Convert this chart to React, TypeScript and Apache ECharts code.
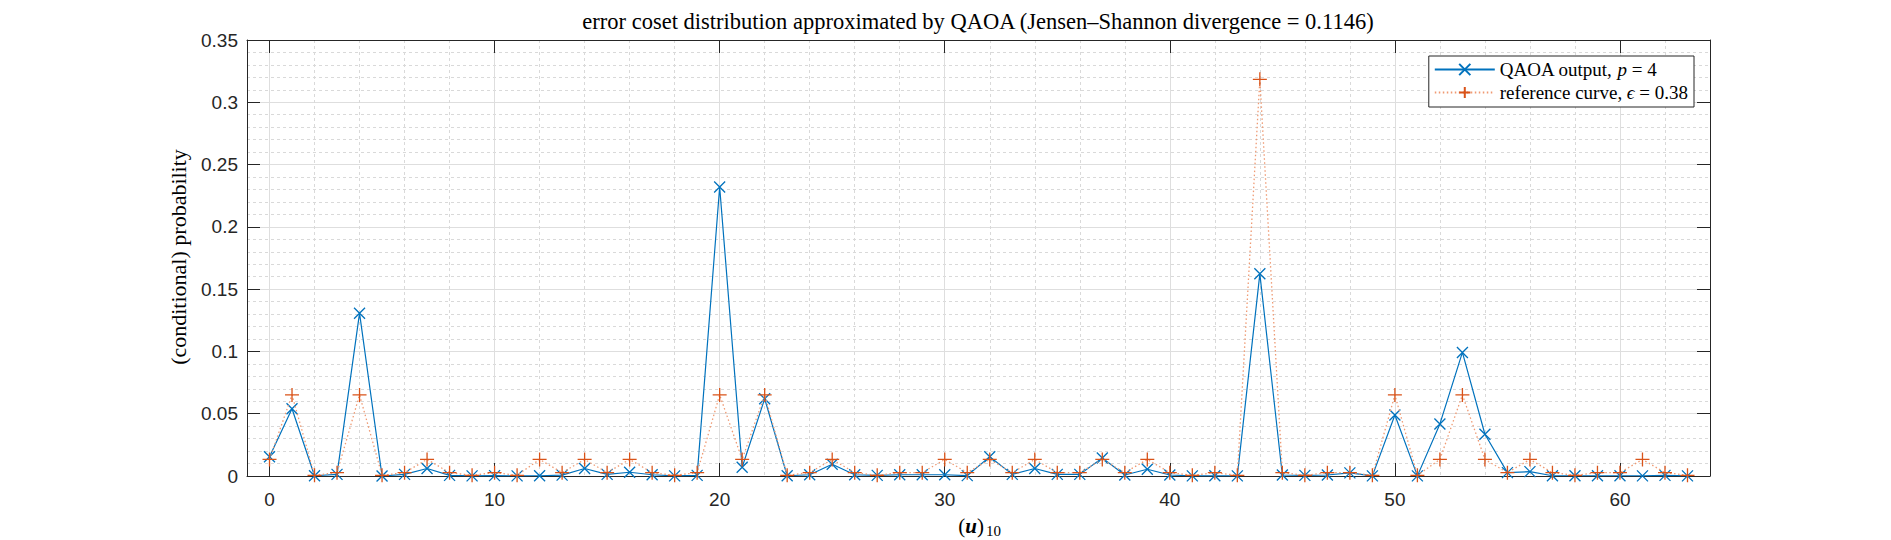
import React, { useEffect, useRef } from "react";
import * as echarts from "echarts";

// ---- data ----
const xValues = [
  0, 1, 2, 3, 4, 5, 6, 7, 8, 9, 10, 11, 12, 13, 14, 15,
  16, 17, 18, 19, 20, 21, 22, 23, 24, 25, 26, 27, 28, 29, 30, 31,
  32, 33, 34, 35, 36, 37, 38, 39, 40, 41, 42, 43, 44, 45, 46, 47,
  48, 49, 50, 51, 52, 53, 54, 55, 56, 57, 58, 59, 60, 61, 62, 63,
];

const qaoaOutput = [
  0.0155, 0.054, 0.0002, 0.0013, 0.1307, 0.0, 0.0013, 0.006,
  0.0005, 0.0001, 0.0003, 0.0001, 0.0002, 0.0007, 0.006, 0.0013,
  0.003, 0.001, 0.0001, 0.0005, 0.232, 0.007, 0.062, 0.0002,
  0.001, 0.0094, 0.001, 0.0005, 0.001, 0.001, 0.001, 0.0003,
  0.0155, 0.0013, 0.006, 0.0013, 0.0013, 0.0145, 0.0008, 0.0054,
  0.0008, 0.0001, 0.0002, 0.0001, 0.1623, 0.0008, 0.0005, 0.0008,
  0.0025, 0.0001, 0.049, 0.0001, 0.0418, 0.0992, 0.0335, 0.0027,
  0.0035, 0.0002, 0.0002, 0.0002, 0.0002, 0.0001, 0.0005, 0.0001,
];

const referenceCurve = [
  0.0133, 0.0651, 0.00056, 0.0027, 0.0651, 0.00056, 0.0027, 0.0133,
  0.0027, 0.00056, 0.0027, 0.00056, 0.0133, 0.0027, 0.0133, 0.0027,
  0.0133, 0.0027, 0.00056, 0.0027, 0.0651, 0.0133, 0.0651, 0.00056,
  0.0027, 0.0133, 0.0027, 0.00056, 0.0027, 0.0027, 0.0133, 0.0027,
  0.0133, 0.0027, 0.0133, 0.0027, 0.0027, 0.0133, 0.0027, 0.0133,
  0.0027, 0.00056, 0.0027, 0.00056, 0.3184, 0.0027, 0.00056, 0.0027,
  0.0027, 0.00056, 0.0651, 0.00056, 0.0133, 0.0651, 0.0133, 0.0027,
  0.0133, 0.0027, 0.00056, 0.0027, 0.0027, 0.0133, 0.0027, 0.00056,
];

const xMajorTicks = [0, 10, 20, 30, 40, 50, 60];
const xMinorTicks = [
  2, 4, 6, 8, 12, 14, 16, 18, 22, 24, 26, 28, 32, 34, 36, 38,
  42, 44, 46, 48, 52, 54, 56, 58, 62,
];

const SERIES_QAOA = "QAOA output, p = 4";
const SERIES_REF = "reference curve, \u03F5 = 0.38";
const TITLE =
  "error coset distribution approximated by QAOA (Jensen\u2013Shannon divergence = 0.1146)";
const Y_NAME = "(conditional) probability";

const SERIF = "'Liberation Serif', 'Times New Roman', serif";
const SANS = "'Liberation Sans', Arial, Helvetica, sans-serif";
const AXIS = "#262626";
const BLUE = "#0072BD";
const ORANGE = "#D95319";
const ORANGE_LINE = "#EF9A73";

const X_PATH = "path://M0,0L10,10M10,0L0,10";
const PLUS_PATH = "path://M5,0L5,10M0,5L10,5";

export default function App() {
  const ref = useRef<HTMLDivElement>(null);

  useEffect(() => {
    if (!ref.current) return;
    const chart = echarts.init(ref.current, undefined, { renderer: "svg" });

    const baseX = {
      type: "value" as const,
      min: -1,
      max: 64,
    };

    const option: any = {
      animation: false,
      backgroundColor: "#ffffff",
      grid: { left: 247, right: 181, top: 40, bottom: 64, containLabel: false },
      legend: {
        orient: "vertical",
        right: 197,
        top: 56,
        itemWidth: 60,
        itemHeight: 14,
        itemGap: 4,
        padding: [4, 6, 5, 5],
        backgroundColor: "#ffffff",
        borderColor: AXIS,
        borderWidth: 1,
        borderRadius: 0,
        data: [SERIES_QAOA, SERIES_REF],
        formatter: (name: string) =>
          name === SERIES_QAOA
            ? "{n|QAOA output, }{i|p}{n| = 4}"
            : "{n|reference curve, }{i|\u03F5}{n| = 0.38}",
        textStyle: {
          fontFamily: SERIF,
          fontSize: 19,
          color: "#000",
          lineHeight: 18,
          rich: {
            n: { fontFamily: SERIF, fontSize: 19, color: "#000", lineHeight: 18 },
            i: {
              fontFamily: SERIF,
              fontSize: 19,
              fontStyle: "italic",
              color: "#000",
              lineHeight: 18,
            },
          },
        },
        z: 10,
      },
      xAxis: [
        {
          ...baseX,
          position: "bottom",
          axisLine: { show: true, onZero: false, lineStyle: { color: AXIS, width: 1 } },
          axisTick: {
            show: true,
            inside: true,
            length: 13,
            customValues: xMajorTicks,
            lineStyle: { color: AXIS, width: 1 },
          },
          axisLabel: {
            show: true,
            customValues: xMajorTicks,
            margin: 14,
            color: AXIS,
            fontSize: 19,
            fontFamily: SANS,
          },
          splitLine: { show: true, lineStyle: { color: "#dedede", width: 1 } },
        },
        {
          ...baseX,
          position: "top",
          axisLine: { show: true, onZero: false, lineStyle: { color: AXIS, width: 1 } },
          axisTick: {
            show: true,
            inside: true,
            length: 13,
            customValues: xMajorTicks,
            lineStyle: { color: AXIS, width: 1 },
          },
          axisLabel: { show: false },
          splitLine: { show: false },
        },
        {
          ...baseX,
          position: "bottom",
          axisLine: { show: false },
          axisTick: { show: false, customValues: xMinorTicks },
          axisLabel: { show: false },
          splitLine: {
            show: true,
            lineStyle: { color: "#d9d9d9", width: 1, type: [3, 3] },
          },
        },
      ],
      yAxis: [
        {
          type: "value",
          position: "left",
          min: 0,
          max: 0.35,
          interval: 0.05,
          axisLine: { show: true, onZero: false, lineStyle: { color: AXIS, width: 1 } },
          axisTick: { show: true, inside: true, length: 13, lineStyle: { color: AXIS, width: 1 } },
          axisLabel: { show: true, margin: 9, color: AXIS, fontSize: 19, fontFamily: SANS },
          splitLine: { show: true, lineStyle: { color: "#dedede", width: 1 } },
          minorTick: { show: false, splitNumber: 5 },
          minorSplitLine: {
            show: true,
            lineStyle: { color: "#d9d9d9", width: 1, type: [3, 3] },
          },
        },
        {
          type: "value",
          position: "right",
          min: 0,
          max: 0.35,
          interval: 0.05,
          axisLine: { show: true, onZero: false, lineStyle: { color: AXIS, width: 1 } },
          axisTick: { show: true, inside: true, length: 13, lineStyle: { color: AXIS, width: 1 } },
          axisLabel: { show: false },
          splitLine: { show: false },
        },
      ],
      series: [
        {
          type: "line",
          name: SERIES_QAOA,
          xAxisIndex: 0,
          yAxisIndex: 0,
          data: xValues.map((x, i) => [x, qaoaOutput[i]]),
          symbol: X_PATH,
          symbolSize: 11,
          showAllSymbol: true,
          lineStyle: { color: BLUE, width: 1.2 },
          itemStyle: { color: BLUE, borderColor: BLUE, borderWidth: 1.3 },
          z: 3,
        },
        {
          type: "line",
          name: SERIES_REF,
          xAxisIndex: 0,
          yAxisIndex: 0,
          data: xValues.map((x, i) => [x, referenceCurve[i]]),
          symbol: PLUS_PATH,
          symbolSize: 14,
          showAllSymbol: true,
          lineStyle: { color: ORANGE_LINE, width: 1.3, type: [1.5, 2.5] },
          itemStyle: { color: ORANGE, borderColor: ORANGE, borderWidth: 1.3 },
          z: 4,
        },
      ],
      graphic: [
        {
          type: "text",
          x: 978,
          y: 21.5,
          style: {
            text: TITLE,
            fontFamily: SERIF,
            fontSize: 22.5,
            fill: "#000",
            textAlign: "center",
            verticalAlign: "middle",
          },
        },
        {
          type: "text",
          x: 178,
          y: 257,
          rotation: Math.PI / 2,
          style: {
            text: Y_NAME,
            fontFamily: SERIF,
            fontSize: 22,
            fill: "#000",
            textAlign: "center",
            verticalAlign: "middle",
          },
        },
        {
          type: "text",
          x: 984,
          y: 525.5,
          style: {
            text: "{p|(}{u|u}{p|)}",
            textAlign: "right",
            verticalAlign: "middle",
            rich: {
              p: { fontFamily: SERIF, fontSize: 21, fill: "#000", color: "#000" },
              u: {
                fontFamily: SERIF,
                fontSize: 21,
                fontWeight: "bold",
                fontStyle: "italic",
                fill: "#000",
                color: "#000",
              },
            },
          },
        },
        {
          type: "text",
          x: 986,
          y: 531,
          style: {
            text: "10",
            fontFamily: SERIF,
            fontSize: 15,
            fill: "#000",
            textAlign: "left",
            verticalAlign: "middle",
          },
        },
      ],
    };

    chart.setOption(option);
    return () => chart.dispose();
  }, []);

  return (
    <div
      ref={ref}
      style={{ position: "fixed", left: 0, top: 0, width: 1891, height: 540, background: "#fff" }}
    />
  );
}
